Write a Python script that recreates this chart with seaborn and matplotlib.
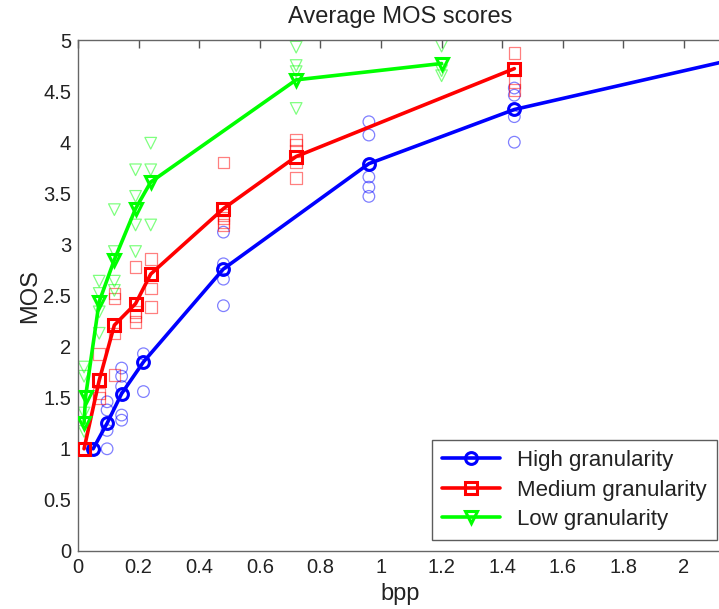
import matplotlib
matplotlib.use("Agg")
import matplotlib.pyplot as plt
import seaborn as sns
from matplotlib.ticker import FixedLocator, MultipleLocator, FuncFormatter

# ---------------- data ----------------
series_names = ["High granularity", "Medium granularity", "Low granularity"]

# mean MOS curves
high_bpp = [0.05, 0.096, 0.144, 0.216, 0.48, 0.96, 1.44, 2.4]
high_mos = [1.0, 1.25, 1.54, 1.85, 2.76, 3.79, 4.32, 4.97]
med_bpp = [0.02, 0.07, 0.12, 0.19, 0.24, 0.48, 0.72, 1.44]
med_mos = [1.0, 1.67, 2.21, 2.42, 2.71, 3.35, 3.86, 4.72]
low_bpp = [0.02, 0.025, 0.07, 0.12, 0.19, 0.24, 0.72, 1.2]
low_mos = [1.25, 1.51, 2.44, 2.85, 3.35, 3.61, 4.61, 4.77]

# individual scores
high_pts_bpp = [0.05, 0.096, 0.096, 0.096, 0.096, 0.144, 0.144, 0.144, 0.144, 0.144,
                0.216, 0.216, 0.48, 0.48, 0.48, 0.48, 0.96, 0.96, 0.96, 0.96, 0.96,
                1.44, 1.44, 1.44, 1.44]
high_pts_mos = [1.0, 1.0, 1.46, 1.38, 1.18, 1.79, 1.71, 1.61, 1.33, 1.28,
                1.93, 1.56, 3.12, 2.81, 2.66, 2.40, 4.20, 4.07, 3.66, 3.56, 3.47,
                4.53, 4.46, 4.25, 4.00]
med_pts_bpp = [0.02, 0.07, 0.07, 0.07, 0.12, 0.12, 0.12, 0.12, 0.19, 0.19, 0.19, 0.19,
               0.24, 0.24, 0.24, 0.48, 0.48, 0.48, 0.48, 0.48, 0.72, 0.72, 0.72, 0.72, 0.72,
               1.44, 1.44, 1.44]
med_pts_mos = [1.0, 1.93, 1.54, 1.50, 2.52, 2.47, 2.13, 1.72, 2.78, 2.34, 2.30, 2.24,
               2.86, 2.57, 2.39, 3.80, 3.29, 3.26, 3.22, 3.19, 4.02, 3.97, 3.92, 3.80, 3.65,
               4.87, 4.59, 4.51]
low_pts_bpp = [0.02, 0.02, 0.02, 0.02, 0.07, 0.07, 0.07, 0.07, 0.12, 0.12, 0.12, 0.12,
               0.19, 0.19, 0.19, 0.19, 0.24, 0.24, 0.24, 0.72, 0.72, 0.72, 0.72,
               1.2, 1.2, 1.2]
low_pts_mos = [1.80, 1.71, 1.35, 1.17, 2.64, 2.52, 2.34, 2.13, 3.34, 2.93, 2.64, 2.55,
               3.73, 3.47, 3.19, 2.93, 3.99, 3.73, 3.19, 4.93, 4.75, 4.69, 4.33,
               4.94, 4.70, 4.65]

x_ticks = [0, 0.2, 0.4, 0.6, 0.8, 1.0, 1.2, 1.4, 1.6, 1.8, 2.0]

colors = ["#0000ff", "#ff0000", "#00ff00"]
markers = ["o", "s", "v"]

# ---------------- plot ----------------
sns.set_theme(style="white")
plt.rcParams["font.family"] = ["Liberation Sans", "DejaVu Sans"]

fig = plt.figure(figsize=(7.19, 6.09), dpi=100)
# axes run past the right edge of the figure (cropped like the reference)
ax = fig.add_axes([78 / 719, 1 - 551 / 609, 2.5 * 303 / 719, 511 / 609])

means = [(high_bpp, high_mos), (med_bpp, med_mos), (low_bpp, low_mos)]
points = [(high_pts_bpp, high_pts_mos), (med_pts_bpp, med_pts_mos), (low_pts_bpp, low_pts_mos)]

for name, (mx, my), (px, py), c, m in zip(series_names, means, points, colors, markers):
    sns.scatterplot(x=px, y=py, ax=ax, marker=m, s=70, color=c, facecolors="none",
                    edgecolor=c, linewidth=0.9, alpha=0.5, legend=False, zorder=2)
    sns.lineplot(x=mx, y=my, ax=ax, color=c, lw=2.6, marker=m, markersize=8.5,
                 markerfacecolor="none", markeredgecolor=c, markeredgewidth=2.2,
                 label=name, estimator=None, sort=False, zorder=3)

ax.set_xlim(0, 2.5)
ax.set_ylim(0, 5)
ax.xaxis.set_major_locator(FixedLocator(x_ticks))
ax.yaxis.set_major_locator(MultipleLocator(0.5))
fmt = FuncFormatter(lambda v, p: ("%.1f" % v).rstrip("0").rstrip("."))
ax.xaxis.set_major_formatter(fmt)
ax.yaxis.set_major_formatter(fmt)
ax.tick_params(direction="in", top=True, right=False, length=6, width=1,
               color="#555555", labelsize=14.5, labelcolor="#222222", pad=5)
for side in ["left", "bottom", "top"]:
    ax.spines[side].set_color("#666666")
    ax.spines[side].set_linewidth(1)
ax.spines["right"].set_visible(False)
ax.set_xlabel("")
ax.set_ylabel("")

fig.text(400 / 719, 1 - 17 / 609, "Average MOS scores", ha="center", va="center",
         fontsize=17, color="#222222")
fig.text(400 / 719, 1 - 594 / 609, "bpp", ha="center", va="center", fontsize=17,
         color="#222222")
fig.text(30 / 719, 1 - 296 / 609, "MOS", ha="center", va="center", rotation=90,
         fontsize=17, color="#222222")

leg = ax.legend(loc="lower right", bbox_to_anchor=(717 / 719, 1 - 540 / 609),
                bbox_transform=fig.transFigure, frameon=True, fancybox=False,
                edgecolor="#333333", fontsize=16, labelspacing=0.38,
                handlelength=2.6, borderpad=0.45, borderaxespad=0)
leg.get_frame().set_linewidth(1.0)
for t in leg.get_texts():
    t.set_color("#222222")

fig.savefig("out.png", dpi=100)
